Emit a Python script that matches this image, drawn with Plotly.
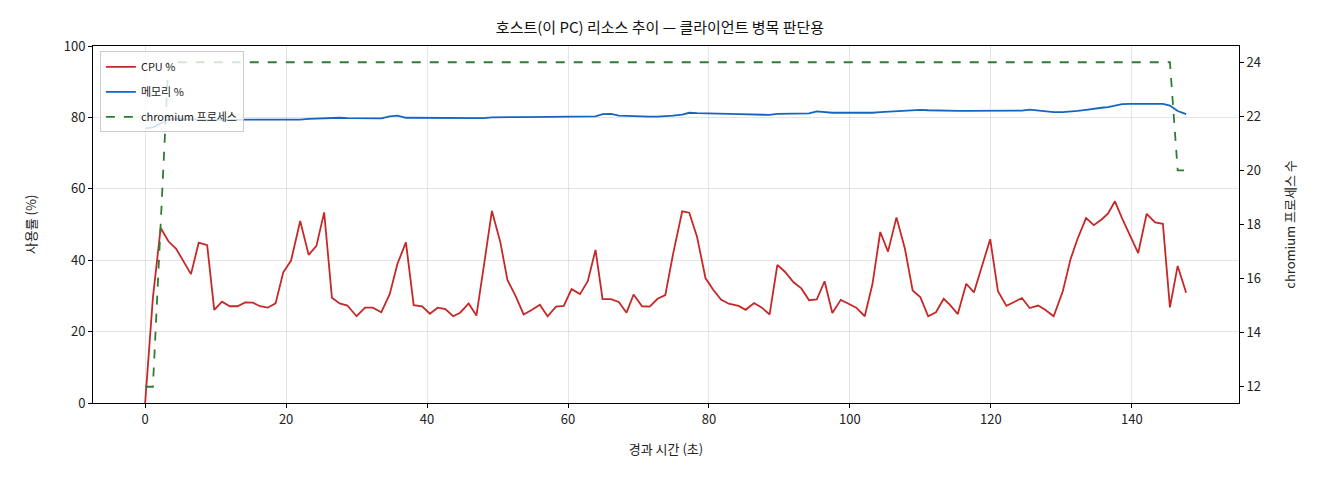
import plotly.graph_objects as go

# 경과 시간 (초)
elapsed_s = [
    0.0, 1.1, 2.2, 3.3, 4.4, 5.5, 6.5, 7.6, 8.8, 9.8,
    10.9, 12.0, 13.1, 14.2, 15.3, 16.3, 17.4, 18.5, 19.6, 20.7,
    22.0, 23.2, 24.3, 25.4, 26.5, 27.6, 28.7,
    30.0, 31.2, 32.3, 33.5, 34.7, 35.8, 37.0, 38.1, 39.3, 40.4,
    41.5, 42.6, 43.7, 44.7, 45.9, 47.0, 48.1, 49.2, 50.4, 51.4,
    52.6, 53.7, 54.9, 56.0, 57.1,
    58.3, 59.4, 60.5, 61.7, 62.8, 63.9, 64.9, 66.1, 67.2, 68.3,
    69.3, 70.5, 71.6, 72.7, 73.8, 74.9, 76.2, 77.2, 78.3, 79.5,
    80.6, 81.7, 82.8, 84.2, 85.2,
    86.4, 87.5, 88.6, 89.7, 90.8, 92.0, 93.1, 94.2, 95.3, 96.4,
    97.5, 98.7, 99.8, 100.9, 102.1, 103.2, 104.3, 105.4, 106.6, 107.8,
    108.9, 110.0, 111.1, 112.2, 113.3,
    114.2, 115.3, 116.5, 117.6, 118.7, 119.9, 121.0, 122.2, 123.3, 124.4,
    125.5, 126.7, 127.7, 128.9, 130.2, 131.3, 132.3, 133.5, 134.6, 135.7,
    136.6, 137.6,
    138.6, 139.8, 140.9, 142.1, 143.3, 144.4, 145.4, 146.5, 147.7,
]

cpu_pct = [
    0.0, 29.5, 49.0, 45.3, 43.2, 39.6, 36.1, 44.9, 44.2, 26.1,
    28.4, 27.1, 27.1, 28.2, 28.1, 27.1, 26.7, 27.9, 36.6, 39.9,
    51.0, 41.5, 44.0, 53.4, 29.5, 27.9, 27.3,
    24.3, 26.7, 26.7, 25.4, 30.5, 39.0, 45.0, 27.4, 27.1, 25.0,
    26.7, 26.3, 24.3, 25.3, 27.9, 24.5, 39.0, 53.8, 45.0, 34.5,
    29.8, 24.8, 26.1, 27.5, 24.3,
    27.0, 27.2, 31.9, 30.5, 34.1, 42.9, 29.1, 29.1, 28.3, 25.3,
    30.4, 27.1, 27.0, 29.2, 30.2, 41.7, 53.7, 53.3, 46.6, 35.0,
    31.7, 29.0, 27.8, 27.2, 26.1,
    28.0, 26.7, 24.8, 38.7, 36.7, 33.8, 32.1, 28.8, 29.0, 34.1,
    25.2, 28.9, 27.8, 26.7, 24.3, 33.4, 47.9, 42.4, 52.0, 43.2,
    31.5, 29.6, 24.3, 25.4, 29.2,
    27.5, 24.9, 33.4, 31.0, 38.3, 45.9, 31.3, 27.2, 28.3, 29.4,
    26.6, 27.3, 26.1, 24.3, 31.3, 40.3, 46.0, 51.8, 49.8, 51.4,
    53.0, 56.5,
    51.8, 46.5, 42.0, 53.0, 50.6, 50.2, 26.8, 38.4, 30.9,
]

mem_pct = [
    76.9, 77.2, 78.3, 79.4, 79.6, 79.5, 79.3, 79.4, 79.3, 79.3,
    79.2, 79.2, 79.2, 79.2, 79.2, 79.2, 79.2, 79.2, 79.2, 79.3,
    79.4, 79.6, 79.7, 79.8, 79.9, 79.9, 79.8,
    79.8, 79.8, 79.7, 79.7, 80.3, 80.5, 79.9, 79.9, 79.9, 79.9,
    79.9, 79.9, 79.9, 79.8, 79.7, 79.7, 79.8, 80.0, 80.1, 80.1,
    80.1, 80.1, 80.1, 80.1, 80.1,
    80.1, 80.1, 80.2, 80.3, 80.2, 80.3, 80.9, 81.0, 80.5, 80.4,
    80.2, 80.2, 80.2, 80.2, 80.3, 80.5, 80.8, 81.3, 81.2, 81.2,
    81.2, 81.1, 81.0, 80.9, 80.9,
    80.9, 80.8, 80.7, 81.0, 81.0, 80.9, 81.0, 81.1, 81.7, 81.5,
    81.3, 81.3, 81.3, 81.2, 81.2, 81.3, 81.5, 81.6, 81.8, 82.0,
    82.1, 82.1, 82.0, 81.9, 81.8,
    81.8, 81.8, 81.8, 81.8, 81.8, 81.9, 82.0, 82.0, 82.0, 81.9,
    82.2, 81.9, 81.7, 81.5, 81.5, 81.6, 81.8, 82.1, 82.5, 82.7,
    82.9, 83.2,
    83.7, 83.8, 83.8, 83.9, 83.9, 83.8, 83.3, 81.8, 80.9,
]

chromium_procs = [12, 12, 18] + [24] * 128 + [20, 20]

FONT = "Noto Sans CJK KR"
# page body has an 8px margin, so the figure is drawn a little smaller
W, H = 1304, 464

fig = go.Figure()
fig.add_trace(go.Scatter(x=elapsed_s, y=cpu_pct, mode="lines", name="CPU %", legendgroup="cpu",
                         line=dict(color="#c62828", width=1.8)))
fig.add_trace(go.Scatter(x=elapsed_s, y=mem_pct, mode="lines", name="메모리 %", legendgroup="mem",
                         line=dict(color="#1565c0", width=1.8)))
fig.add_trace(go.Scatter(x=elapsed_s, y=chromium_procs, mode="lines", name="chromium 프로세스",
                         legendgroup="proc", yaxis="y2",
                         line=dict(color="#2e7d32", width=1.8, dash="dash")))

axis_common = dict(showline=True, linecolor="black", linewidth=1, ticks="outside",
                   ticklen=4, tickcolor="black", tickfont=dict(size=13, color="#222"),
                   zeroline=False)

fig.update_layout(
    width=W, height=H,
    paper_bgcolor="white", plot_bgcolor="white",
    font=dict(family=FONT, color="#222"),
    margin=dict(l=85, r=73, t=38, b=69),
    title=dict(text="호스트(이 PC) 리소스 추이 — 클라이언트 병목 판단용", x=0.5, xanchor="center",
               yref="container", y=1 - 20 / H, yanchor="middle", font=dict(size=15, color="#111")),
    xaxis=dict(axis_common, range=[-7.4, 155.2], tickvals=[0, 20, 40, 60, 80, 100, 120, 140],
               mirror=True, showgrid=True, gridcolor="rgba(0,0,0,0.1)",
               title=dict(text="경과 시간 (초)", font=dict(size=13), standoff=18)),
    yaxis=dict(axis_common, range=[0, 100], tickvals=[0, 20, 40, 60, 80, 100],
               mirror=True, showgrid=True, gridcolor="rgba(0,0,0,0.1)",
               title=dict(text="사용률 (%)", font=dict(size=13), standoff=24)),
    yaxis2=dict(axis_common, overlaying="y", side="right", range=[11.4, 24.6],
                tickvals=[12, 14, 16, 18, 20, 22, 24], showgrid=False,
                title=dict(text="chromium 프로세스 수", font=dict(size=13), standoff=25)),
    legend=dict(x=0.006, y=0.985, xanchor="left", yanchor="top",
                bgcolor="rgba(255,255,255,0.8)", bordercolor="#cccccc", borderwidth=1,
                font=dict(size=11, color="#222"), tracegroupgap=6),
)

fig.write_html("out.html")
